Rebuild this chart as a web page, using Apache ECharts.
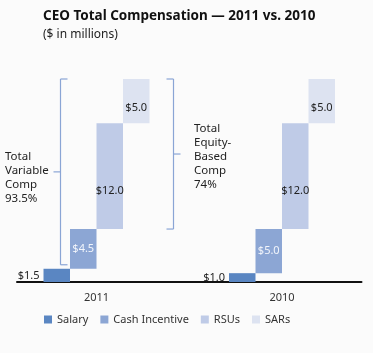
<!DOCTYPE html>
<html><head><meta charset="utf-8">
<script src="https://cdn.jsdelivr.net/npm/echarts@6/dist/echarts.min.js"></script>
<style>html,body{margin:0;padding:0;background:#fbfbfb}#c{width:373px;height:353px}</style>
</head><body><div id="c"></div>
<script>
var years = ['2011', '2010'];
var components = ['Salary', 'Cash Incentive', 'RSUs', 'SARs'];
var salary = [1.5, 1.0];
var cashIncentive = [4.5, 5.0];
var rsus = [12.0, 12.0];
var sars = [5.0, 5.0];
var colors = ['#5a86c2', '#8ca6d4', '#bfcbe7', '#dde3f1'];
var bracketNotes = ['Total\nVariable\nComp\n93.5%', 'Total\nEquity-\nBased\nComp\n74%'];

var FONT = '"Noto Sans", sans-serif';
// slot layout: 13 slots; 2011 in 1..4, 2010 in 8..11
var slotStart = [1, 8];
var nSlots = 13;
var cats = [];
for (var i = 0; i < nSlots; i++) cats.push('s' + i);
var comps = [salary, cashIncentive, rsus, sars];
var base = new Array(nSlots).fill('-');
var compData = comps.map(function(){ return new Array(nSlots).fill('-'); });
years.forEach(function(y, yi){
  var cum = 0;
  comps.forEach(function(arr, ci){
    var s = slotStart[yi] + ci;
    base[s] = cum;
    compData[ci][s] = arr[yi];
    cum += arr[yi];
  });
});
var yearAxis = [];
for (var i = 0; i <= nSlots; i++) yearAxis.push('');
years.forEach(function(y, yi){ yearAxis[slotStart[yi] + 2] = y; });

var labelCfg = [
  {show:true, position:'left', color:'#222', fontSize:11, distance:4, fontFamily:FONT},
  {show:true, position:'inside', color:'#f2f5fb', fontSize:11, fontFamily:FONT},
  {show:true, position:'inside', color:'#222', fontSize:11, offset:[0,15], fontFamily:FONT},
  {show:true, position:'inside', color:'#222', fontSize:11, offset:[0,7], fontFamily:FONT}
];

var series = [{
  name:'base', type:'bar', stack:'w', data:base, barCategoryGap:0,
  itemStyle:{color:'transparent'}, silent:true, xAxisIndex:0
}];
components.forEach(function(c, ci){
  series.push({
    name:c, type:'bar', stack:'w', data:compData[ci], barCategoryGap:0, xAxisIndex:0,
    itemStyle:{color:colors[ci]},
    label: Object.assign({formatter:function(p){ return '$' + Number(p.value).toFixed(1); }}, labelCfg[ci])
  });
});

var chart = echarts.init(document.getElementById('c'));
chart.setOption({
  backgroundColor:'#fbfbfb',
  animation:false,
  title:{
    text:'CEO Total Compensation \u2014 2011 vs. 2010',
    subtext:'($ in millions)',
    left:43, top:9, itemGap:6, padding:0,
    textStyle:{fontSize:13.5, fontWeight:'bold', color:'#111', fontFamily:FONT},
    subtextStyle:{fontSize:12, color:'#222', fontFamily:FONT}
  },
  legend:{
    data:components, left:44, top:314, padding:0, icon:'rect', itemWidth:8, itemHeight:8, itemGap:12,
    textStyle:{fontSize:11, color:'#333', fontFamily:FONT}
  },
  grid:{left:17, width:344.5, top:79, bottom:71, containLabel:false},
  xAxis:[{
    type:'category', data:cats, position:'bottom',
    axisLine:{lineStyle:{color:'#111', width:2}}, axisTick:{show:false}, axisLabel:{show:false}
  },{
    type:'category', data:yearAxis, boundaryGap:false, position:'bottom',
    axisLine:{show:false}, axisTick:{show:false},
    axisLabel:{interval:0, color:'#333', fontSize:11, margin:10, fontFamily:FONT}
  }],
  yAxis:{type:'value', min:0, max:23, show:false, splitLine:{show:false}},
  series:series
});

// brackets
var bc = '#8aa5d5';
function py(v){ return chart.convertToPixel({yAxisIndex:0}, v); }
var top23 = py(salary[0] + cashIncentive[0] + rsus[0] + sars[0]);
var lb = py(salary[0]) - 4;
var rb = py(salary[0] + cashIncentive[0]);
var lx = 60.5, rx = 173.5;
var lmid = (top23 + lb) / 2, rmid = (top23 + rb) / 2;
function ln(x1,y1,x2,y2){ return {type:'line', shape:{x1:x1,y1:y1,x2:x2,y2:y2}, style:{stroke:bc, lineWidth:1.2}}; }
chart.setOption({graphic:[
  ln(lx, top23, lx, lb), ln(lx, top23, lx+7, top23), ln(lx, lb, lx+7, lb), ln(lx-7, lmid, lx, lmid),
  ln(rx, top23, rx, rb), ln(rx-7, top23, rx, top23), ln(rx-7, rb, rx, rb), ln(rx, rmid, rx+7, rmid),
  {type:'text', left:5, top:150, style:{text:bracketNotes[0], fontSize:11.5, lineHeight:14, fill:'#222', fontFamily:FONT}},
  {type:'text', left:194, top:122, style:{text:bracketNotes[1], fontSize:11.5, lineHeight:14, fill:'#222', fontFamily:FONT}}
]});
</script></body></html>
